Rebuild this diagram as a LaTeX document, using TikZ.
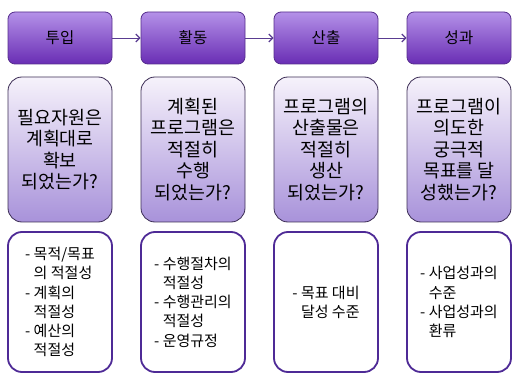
\documentclass[tikz,border=0pt]{standalone}
\usepackage{fontspec}
\setmainfont{Noto Sans CJK KR}
\usetikzlibrary{arrows.meta}
\definecolor{topedge}{RGB}{85,45,140}
\definecolor{toptop}{RGB}{180,145,232}
\definecolor{topbot}{RGB}{105,45,180}
\definecolor{midtop}{RGB}{246,242,251}
\definecolor{midbot}{RGB}{168,146,218}
\definecolor{midedge}{RGB}{60,45,85}
\definecolor{botedge}{RGB}{78,42,150}
\definecolor{arrowcol}{RGB}{90,60,145}
\begin{document}
\begin{tikzpicture}[x=1pt,y=-1pt,
  topbox/.style={rounded corners=7pt, draw=topedge, line width=0.8pt,
    top color=toptop, bottom color=topbot, minimum width=104pt,
    minimum height=52pt, inner sep=0pt, text=black,
    font=\fontsize{15.5}{18}\selectfont},
  midbox/.style={rounded corners=14pt, draw=midedge, line width=0.8pt,
    top color=midtop, bottom color=midbot, minimum width=104pt,
    minimum height=145pt, inner sep=0pt, align=center, text=black,
    font=\fontsize{18.4}{21.5}\selectfont},
  botbox/.style={rounded corners=14pt, draw=botedge, line width=1.8pt,
    fill=white, minimum width=104pt, minimum height=140pt,
    inner sep=0pt, align=left, text=black,
    font=\fontsize{15}{19.2}\selectfont},
  flow/.style={draw=arrowcol, line width=0.9pt,
    -{Straight Barb[length=4pt,width=8pt,line width=1.2pt]}}
]
\useasboundingbox (0,0) rectangle (512,377);
% top row
\node[topbox] (t1) at (60,38) {투입};
\node[topbox] (t2) at (193,38) {활동};
\node[topbox] (t3) at (326,38) {산출};
\node[topbox] (t4) at (459,38) {성과};
\draw[flow] (t1) -- (t2);
\draw[flow] (t2) -- (t3);
\draw[flow] (t3) -- (t4);
% middle row
\node[midbox] (m1) at (60,149.5) {필요자원은\\계획대로\\확보\\되었는가?};
\node[midbox] (m2) at (193,149.5) {계획된\\프로그램은\\적절히\\수행\\되었는가?};
\node[midbox] (m3) at (326,149.5) {프로그램의\\산출물은\\적절히\\생산\\되었는가?};
\node[midbox] (m4) at (459,149.5) {프로그램이\\의도한\\궁극적\\목표를 달\\성했는가?};
% bottom row
\node[botbox] (b1) at (60,302) {- 목적/목표\\\phantom{- }의 적절성\\- 계획의\\\phantom{- }적절성\\- 예산의\\\phantom{- }적절성};
\node[botbox] (b2) at (193,302) {- 수행절차의\\\phantom{- }적절성\\- 수행관리의\\\phantom{- }적절성\\- 운영규정};
\node[botbox] (b3) at (326,302) {- 목표 대비\\\phantom{- }달성 수준};
\node[botbox] (b4) at (459,302) {- 사업성과의\\\phantom{- }수준\\- 사업성과의\\\phantom{- }환류};
\end{tikzpicture}
\end{document}
